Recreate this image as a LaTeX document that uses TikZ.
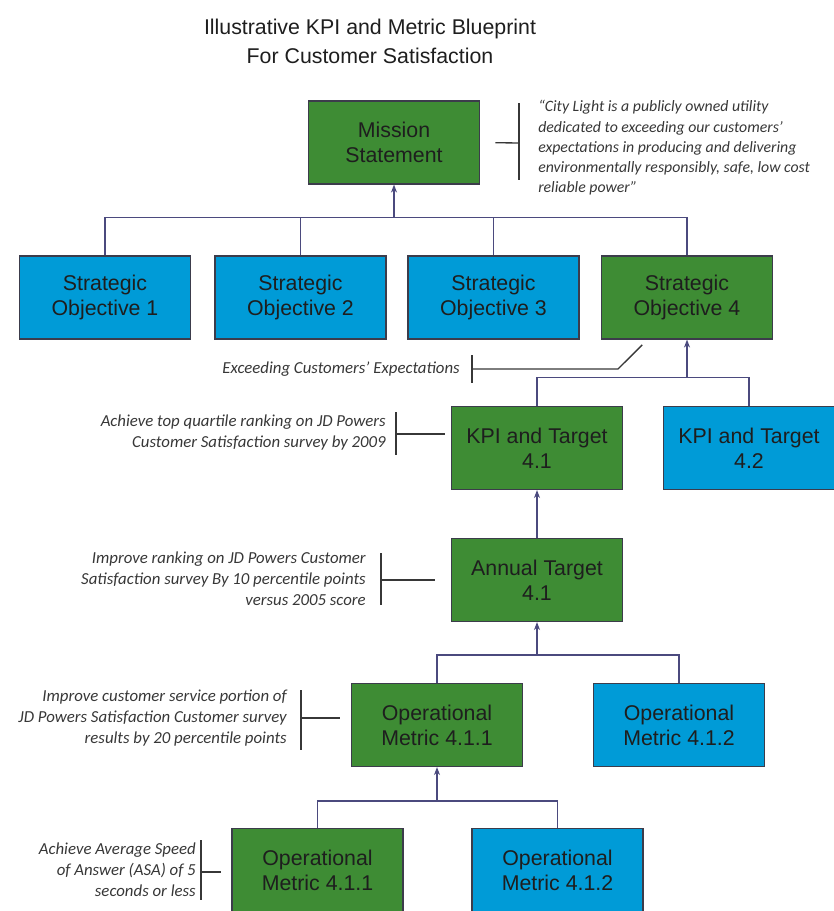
\documentclass[tikz,border=0pt]{standalone}
\usepackage{fontspec}
\setmainfont{Liberation Sans}
\newfontfamily\notefont{Carlito}
\usetikzlibrary{positioning}
\usetikzlibrary{arrows.meta}
\definecolor{gr}{RGB}{62,140,52}
\definecolor{bl}{RGB}{0,155,215}
\definecolor{ln}{RGB}{75,74,126}
\definecolor{bd}{RGB}{60,60,75}
\definecolor{tx}{RGB}{30,30,30}
\definecolor{nt}{RGB}{55,55,55}

\begin{document}
\begin{tikzpicture}[x=0.75pt, y=-0.75pt,
  box/.style={rectangle, minimum width=128pt, minimum height=62pt, draw=bd, line width=1.1pt, align=center, text=tx, inner sep=0pt, font=\fontsize{16}{18.75}\selectfont},
  gbox/.style={box, fill=gr},
  bbox/.style={box, fill=bl},
  conn/.style={draw=ln, line width=1.1pt},
  arr/.style={conn, -{Stealth[length=6pt, width=4.5pt]}},
  note/.style={anchor=east, align=right, text=nt, inner sep=0pt, font=\notefont\itshape\fontsize{12.6}{15.75}\selectfont},
  brk/.style={draw=nt, line width=1pt}]
\useasboundingbox (0,0) rectangle (833,911);
\node (title) [align=center, text=tx, font=\fontsize{16}{21.75}\selectfont] at (370,41.5) {Illustrative KPI and Metric Blueprint\\For Customer Satisfaction};
\node (ms) [gbox] at (394,142.5) {Mission\\Statement};
\node (so1) [bbox] at (105,297.5) {Strategic\\Objective 1};
\node (so2) [bbox] at (300.5,297.5) {Strategic\\Objective 2};
\node (so3) [bbox] at (493.5,297.5) {Strategic\\Objective 3};
\node (so4) [gbox] at (687,297.5) {Strategic\\Objective 4};
\node (kpi1) [gbox] at (537,448) {KPI and Target\\4.1};
\node (kpi2) [bbox] at (749,448) {KPI and Target\\4.2};
\node (at1) [gbox] at (537,580) {Annual Target\\4.1};
\node (om1) [gbox] at (437,725) {Operational\\Metric 4.1.1};
\node (om2) [bbox] at (679,725) {Operational\\Metric 4.1.2};
\node (om3) [gbox] at (317.5,870) {Operational\\Metric 4.1.1};
\node (om4) [bbox] at (557.5,870) {Operational\\Metric 4.1.2};
\path (ms.south) ++(0,33) coordinate (b1);
\path (so4.south) ++(0,38) coordinate (b2);
\path (at1.south) ++(0,33) coordinate (b3);
\path (om1.south) ++(0,34) coordinate (b4);
\draw [conn] (so1.north) |- (b1) -| (so4.north);
\draw [conn] (so2.north) -- (so2.north |- b1);
\draw [conn] (so3.north) -- (so3.north |- b1);
\draw [arr] (b1) -- (ms.south);
\draw [conn] (kpi1.north) |- (b2) -| (kpi2.north);
\draw [arr] (b2) -- (so4.south);
\draw [arr] (at1.north) -- (kpi1.south);
\draw [conn] (om1.north) |- (b3) -| (om2.north);
\draw [arr] (b3) -- (at1.south);
\draw [conn] (om3.north) |- (b4) -| (om4.north);
\draw [arr] (b4) -- (om1.south);
\node (q) [note, anchor=west, align=left, font=\notefont\itshape\fontsize{11.85}{15.2}\selectfont] at (538,148) {“City Light is a publicly owned utility\\dedicated to exceeding our customers’\\expectations in producing and delivering\\environmentally responsibly, safe, low cost\\reliable power”};
\coordinate (c0) at (519,143);
\draw [brk] (519,103) -- (519,180);
\draw [brk, shorten >=11.5pt] (c0) -- (ms.east);
\node (n1) [note] at (460,369) {Exceeding Customers’ Expectations};
\coordinate (c1) at (472,369);
\draw [brk] (472,355) -- (472,383);
\draw [brk] (c1) -- ++(146,0) -- ([xshift=31pt, yshift=-4pt]so4.south west);
\node (n2) [note] at (386,433) {Achieve top quartile ranking on JD Powers\\Customer Satisfaction survey by 2009};
\coordinate (c2) at (396,434);
\draw [brk] (396,412) -- (396,455);
\draw [brk, shorten >=4.5pt] (c2) -- (kpi1.west |- c2);
\node (n3) [note] at (366,579) {Improve ranking on JD Powers Customer\\Satisfaction survey By 10 percentile points\\versus 2005 score};
\coordinate (c3) at (381,580);
\draw [brk] (381,553) -- (381,605);
\draw [brk, shorten >=12pt] (c3) -- (at1.west |- c3);
\node (n4) [note] at (287,718) {Improve customer service portion of\\JD Powers Satisfaction Customer survey\\results by 20 percentile points};
\coordinate (c4) at (301,718);
\draw [brk] (301,690) -- (301,750);
\draw [brk, shorten >=8pt] (c4) -- (om1.west |- c4);
\node (n5) [note] at (196,870) {Achieve Average Speed\\of Answer (ASA) of 5\\seconds or less};
\coordinate (c5) at (201,872);
\draw [brk] (201,840) -- (201,900);
\draw [brk, shorten >=7.5pt] (c5) -- (om3.west |- c5);
\end{tikzpicture}
\end{document}
